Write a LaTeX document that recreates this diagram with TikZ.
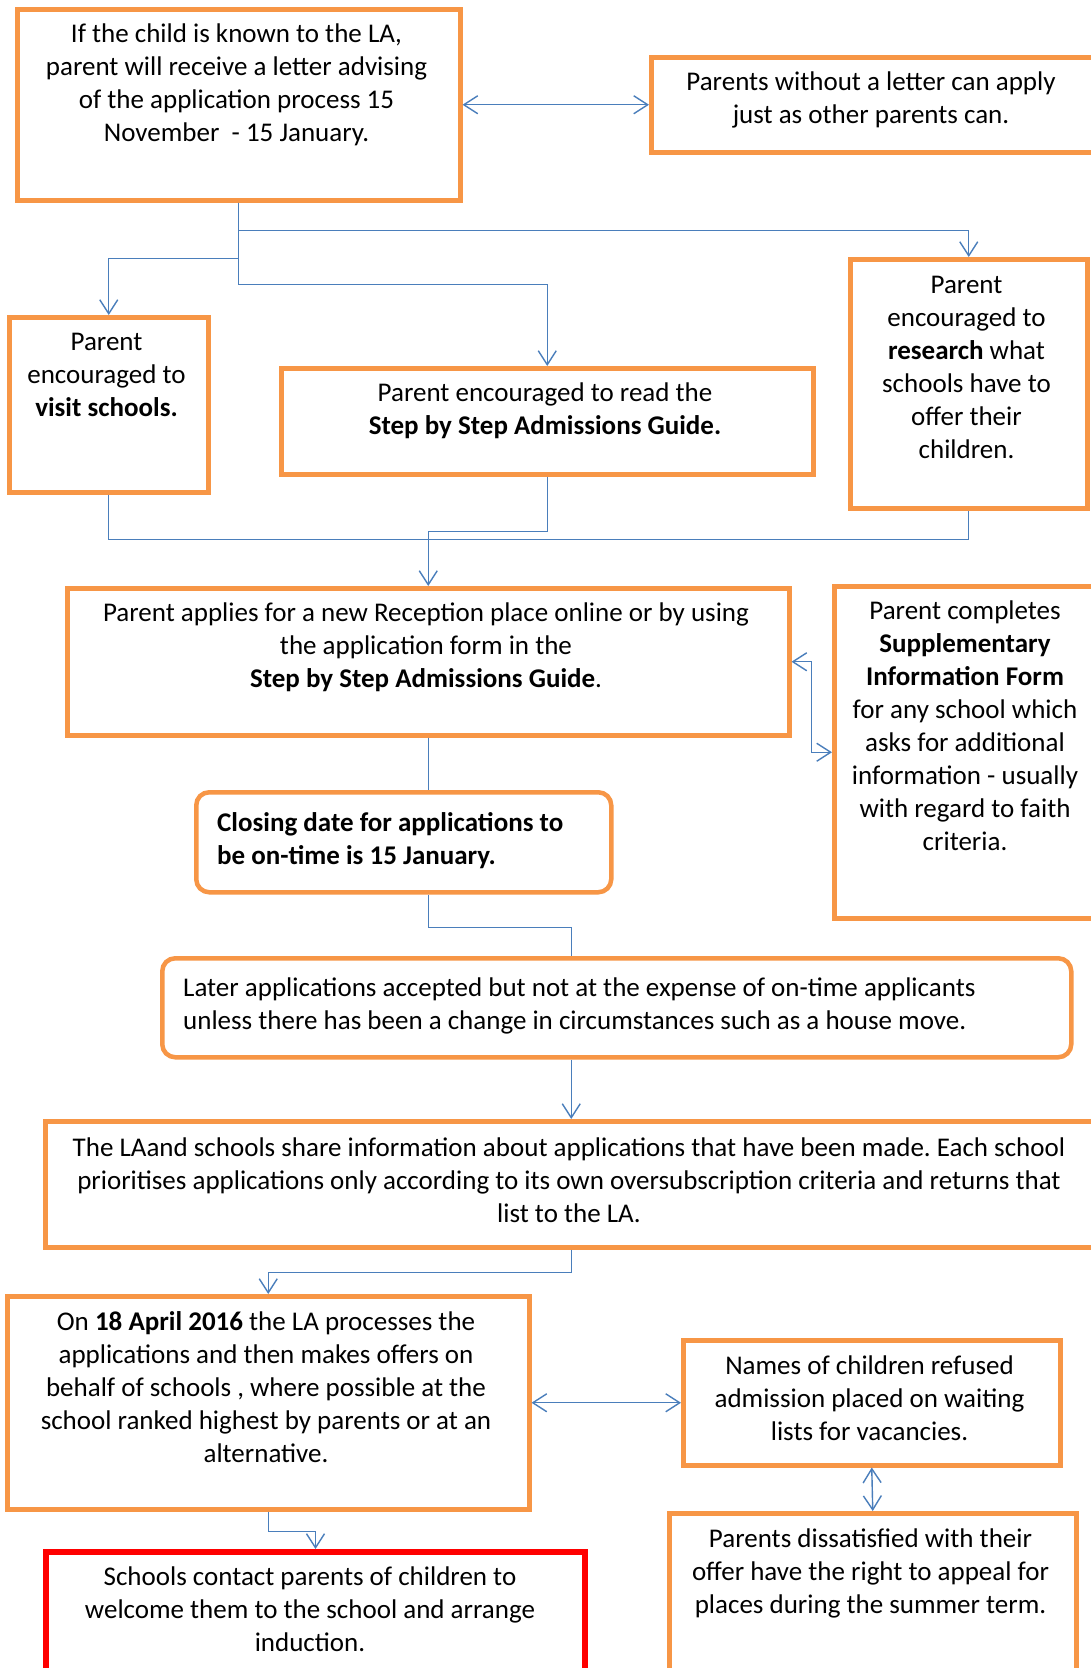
\documentclass[tikz,border=0pt]{standalone}
\usepackage{fontspec}
\setmainfont{Carlito}
\frenchspacing
\usetikzlibrary{arrows.meta,calc}
\definecolor{obord}{HTML}{F79646}
\definecolor{conn}{HTML}{4A7EBB}
\definecolor{rbord}{HTML}{FF0000}
\tikzset{
  obox/.style={draw=obord, line width=4.5pt, fill=white, rectangle, inner sep=0pt, anchor=north west},
  rbox/.style={obox, rounded corners=13pt},
  redbox/.style={obox, draw=rbord, line width=6pt},
  txt/.style={inner sep=0pt, align=center, anchor=north, font=\fontsize{27}{33}\selectfont\frenchspacing, text=black},
  ltxt/.style={txt, align=left, anchor=north west},
  link/.style={draw=conn, line width=1.4pt},
  >={Straight Barb[length=14pt,width=18pt]},
}
\begin{document}
\begin{tikzpicture}[x=1pt,y=-1pt]
\fill[white] (0,0) rectangle (1090,1668);
\useasboundingbox (0,0) rectangle (1090,1668);

% boxes
\node[obox, minimum width=443pt, minimum height=191pt] (b1) at (15,7) {};
\node[obox, minimum width=445pt, minimum height=95pt] (b2) at (649,55) {};
\node[obox, minimum width=199pt, minimum height=175pt] (visit) at (7,315) {};
\node[obox, minimum width=532pt, minimum height=106pt] (guide) at (279,366) {};
\node[obox, minimum width=237pt, minimum height=249pt] (research) at (848,257) {};
\node[obox, minimum width=722pt, minimum height=147pt] (apply) at (65,586) {};
\node[obox, minimum width=266pt, minimum height=332pt] (supp) at (832,584) {};
\node[rbox, minimum width=415pt, minimum height=100pt] (closing) at (194,790) {};
\node[rbox, minimum width=909pt, minimum height=99pt] (later) at (160,956) {};
\node[obox, minimum width=1052pt, minimum height=126pt] (la) at (43,1119) {};
\node[obox, minimum width=522pt, minimum height=213pt] (april) at (5,1294) {};
\node[obox, minimum width=377pt, minimum height=125pt] (waiting) at (681,1338) {};
\node[obox, minimum width=407pt, minimum height=200pt] (appeal) at (667,1511) {};
\node[redbox, minimum width=539pt, minimum height=160pt] (schools) at (43,1549) {};

% texts
\node[txt] (t1) at (236.5,19) {\strut If the child is known to the LA,\\ parent will receive a letter advising\\ of the application process 15\\ November\ \ - 15 January.};
\node[txt] (t2) at (871,67) {\strut Parents without a letter can apply\\ just as other parents can.};
\node[txt] (tvisit) at (106.5,327) {\strut Parent\\ encouraged to\\ \textbf{visit schools.}};
\node[txt] (tguide) at (545,378) {\strut Parent encouraged to read the\\ \textbf{Step by Step Admissions Guide.}};
\node[txt] (tresearch) at (966.5,270) {\strut Parent\\ encouraged to\\ \textbf{research} what\\ schools have to\\ offer their\\ children.};
\node[txt] (tapply) at (426,598) {\strut Parent applies for a new Reception place online or by using\\ the application form in the\\ \textbf{Step by Step Admissions Guide}.};
\node[txt] (tsupp) at (965,596) {\strut Parent completes\\ \textbf{Supplementary}\\ \textbf{Information Form}\\ for any school which\\ asks for additional\\ information - usually\\ with regard to faith\\ criteria.};
\node[ltxt] (tclosing) at (217,808) {\strut\textbf{Closing date for applications to}\\ \textbf{be on-time is 15 January.}};
\node[ltxt] (tlater) at (183,973) {\strut Later applications accepted but not at the expense of on-time applicants\\ unless there has been a change in circumstances such as a house move.};
\node[txt] (tla) at (569,1133) {\strut The LAand schools share information about applications that have been made. Each school\\ prioritises applications only according to its own oversubscription criteria and returns that\\ list to the LA.};
\node[txt] (tapril) at (266,1307) {\strut On \textbf{18 April 2016} the LA processes the\\ applications and then makes offers on\\ behalf of schools , where possible at the\\ school ranked highest by parents or at an\\ alternative.};
\node[txt] (twaiting) at (869.5,1351) {\strut Names of children refused\\ admission placed on waiting\\ lists for vacancies.};
\node[txt] (tappeal) at (870.5,1524) {\strut Parents dissatisfied with their\\ offer have the right to appeal for\\ places during the summer term.};
\node[txt] (tschools) at (310,1562) {\strut Schools contact parents of children to\\ welcome them to the school and arrange\\ induction.};

% connectors
\draw[link,<->] (b1.east) -- (b2.west);
\draw[link,->] (b1.south) -- ++(0,28) -| (research.north);
\draw[link,->] (b1.south) -- ++(0,56) -| (visit.north);
\draw[link,->] (b1.south) -- ++(0,82) -| (guide.north);
\draw[link] (visit.south) -- ++(0,45) -| (research.south);
\draw[link,->] (guide.south) -- ++(0,55) -| (apply.north);
\draw[link,<->] (apply.east) -- ++(20,0) |- (supp.west);
\draw[link] (apply.south) -- (apply.south |- closing.north);
\draw[link] (apply.south |- closing.south) -- ++(0,33) -| (later.north -| la.north);
\draw[link,->] (later.south -| la.north) -- (la.north);
\draw[link,->] (la.south) -- ++(0,23) -| (april.north);
\draw[link,<->] (april.east) -- (waiting.west);
\draw[link,<->] (waiting.south) -- (appeal.north);
\draw[link,->] (april.south) -- ++(0,20) -| (schools.north);
\end{tikzpicture}
\end{document}
